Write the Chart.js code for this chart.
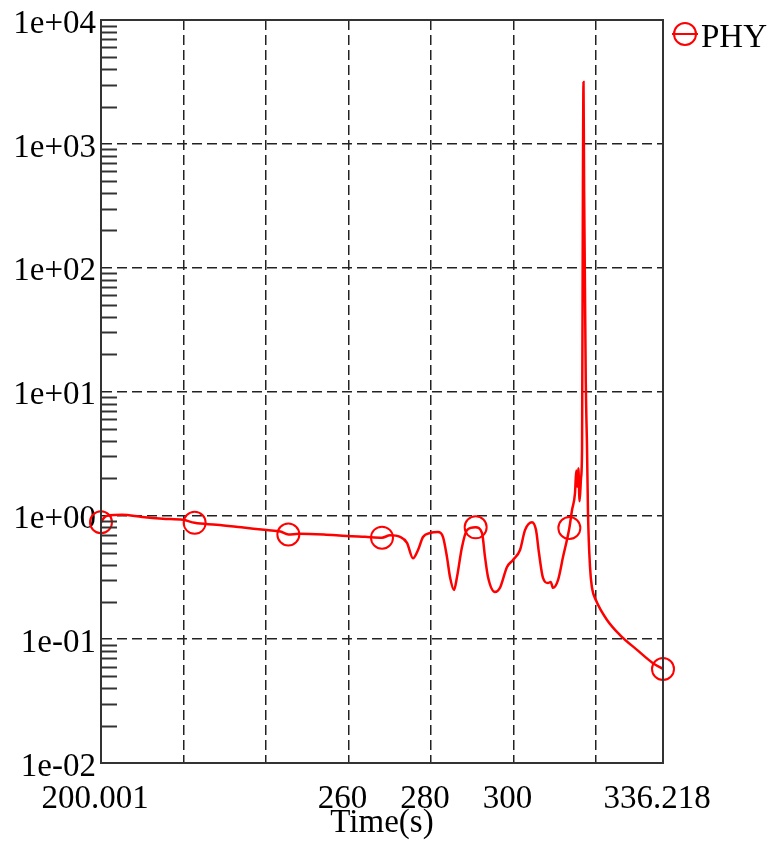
<!DOCTYPE html>
<html>
<head>
<meta charset="utf-8">
<script src="https://cdn.jsdelivr.net/npm/chart.js@4.4.1/dist/chart.umd.min.js"></script>
<style>
  html, body { margin: 0; padding: 0; background: #fff; }
  #chart { display: block; }
</style>
</head>
<body>
<canvas id="chart" width="772" height="848"></canvas>
<script>
// PHY against time, log scale on y

const seriesLabel = 'PHY';

const times = [
  200.001, 200.9, 202.0, 205.1, 210, 215, 219.9, 222.70, 228, 234,
  240.2, 243.5, 245.41, 248, 254, 259.6, 264, 268.11, 270.05, 272.47,
  274.17, 275.62, 276.84, 278.05, 279.75, 281.68, 282.90, 283.86, 284.59, 285.56,
  286.29, 287.50, 288.71, 290.81, 292.35, 293.08, 293.80, 295.50, 296.71, 298.41,
  299.86, 301.56, 302.77, 304.47, 305.44, 306.16, 307.13, 308.34, 309.0, 309.56,
  310.77, 311.98, 313.52, 314.16, 314.89, 315.2, 315.45, 315.7, 316.0, 316.35,
  316.6, 316.8, 316.95, 317.1, 317.5, 317.8, 318.04, 318.53, 319.01, 320.0,
  322.65, 325.80, 329.92, 333.80, 336.218
];

const phy = [
  0.88, 0.97, 1.0, 1.01, 0.97, 0.94, 0.92, 0.87, 0.84, 0.80,
  0.76, 0.74, 0.70, 0.71, 0.70, 0.68, 0.67, 0.66, 0.69, 0.67,
  0.60, 0.45, 0.525, 0.668, 0.72, 0.733, 0.668, 0.46, 0.318, 0.25,
  0.318, 0.555, 0.76, 0.80, 0.72, 0.46, 0.318, 0.24, 0.26, 0.383,
  0.436, 0.525, 0.76, 0.88, 0.76, 0.496, 0.312, 0.284, 0.29, 0.26,
  0.30, 0.46, 0.79, 1.10, 1.51, 2.3, 1.7, 2.4, 1.3, 2.0,
  3.5, 400, 3160, 420, 12, 3.56, 1.05, 0.383, 0.26, 0.205,
  0.143, 0.108, 0.082, 0.064, 0.0574
];

// circle markers along the curve
const markerTimes = [200.001, 222.70, 245.41, 268.11, 290.81, 313.52, 336.218];

const xTicks = [200.001, 220, 240, 260, 280, 300, 320, 336.218];
const xTickLabels = ['200.001', '', '', '260', '280', '300', '', '336.218'];

const yMajorTicks = [0.01, 0.1, 1, 10, 100, 1000, 10000];
const yTickLabels = ['1e-02', '1e-01', '1e+00', '1e+01', '1e+02', '1e+03', '1e+04'];

const FONT = "'Liberation Serif', 'Times New Roman', serif";
const RED = '#ff0000';
const GRID = '#222';
const FRAME = '#333';

// frame, minor ticks inside the left axis, legend on the right
const decorPlugin = {
  id: 'decor',
  afterDraw(chart) {
    const { ctx, chartArea } = chart;
    const y = chart.scales.y;
    ctx.save();
    ctx.strokeStyle = FRAME;
    ctx.lineWidth = 2;
    y.ticks.forEach(t => {
      if (t.major) return;
      const py = Math.round(y.getPixelForValue(t.value)) + 0.5;
      ctx.beginPath();
      ctx.moveTo(chartArea.left, py);
      ctx.lineTo(chartArea.left + 16, py);
      ctx.stroke();
    });
    ctx.strokeRect(chartArea.left, chartArea.top, chartArea.right - chartArea.left, chartArea.bottom - chartArea.top);

    const ds = chart.data.datasets[0];
    const cx = chartArea.right + 22, cy = 34;
    ctx.strokeStyle = ds.borderColor;
    ctx.lineWidth = 2;
    ctx.beginPath();
    ctx.arc(cx, cy, 11, 0, Math.PI * 2);
    ctx.stroke();
    ctx.beginPath();
    ctx.moveTo(cx - 13, cy);
    ctx.lineTo(cx + 13, cy);
    ctx.stroke();
    ctx.fillStyle = '#000';
    ctx.font = '33px ' + FONT;
    ctx.textBaseline = 'middle';
    ctx.textAlign = 'left';
    ctx.fillText(ds.label, cx + 16, cy + 4);
    ctx.restore();
  }
};

const isEdge = (v, lo, hi) => v === lo || v === hi;

new Chart(document.getElementById('chart'), {
  type: 'line',
  data: {
    datasets: [{
      label: seriesLabel,
      data: times.map((t, i) => ({ x: t, y: phy[i] })),
      borderColor: RED,
      borderWidth: 2.5,
      cubicInterpolationMode: 'monotone',
      pointStyle: 'circle',
      pointRadius: ctx => markerTimes.includes(times[ctx.dataIndex]) ? 11 : 0,
      pointHoverRadius: ctx => markerTimes.includes(times[ctx.dataIndex]) ? 11 : 0,
      pointBorderColor: RED,
      pointBackgroundColor: 'rgba(0,0,0,0)',
      pointBorderWidth: 2,
      clip: false
    }]
  },
  options: {
    responsive: false,
    animation: false,
    devicePixelRatio: 1,
    events: [],
    layout: { padding: { left: 0, top: 20, right: 109, bottom: 0 } },
    plugins: {
      legend: { display: false },
      tooltip: { enabled: false }
    },
    scales: {
      x: {
        type: 'linear',
        min: 200.001,
        max: 336.218,
        afterBuildTicks: scale => {
          scale.ticks = xTicks.map(v => ({ value: v }));
        },
        afterFit: scale => { scale.height = 85; },
        ticks: {
          autoSkip: false,
          maxRotation: 0,
          padding: 17,
          labelOffset: -6,
          color: '#000',
          font: { family: FONT, size: 33 },
          callback: (v, i) => xTickLabels[i]
        },
        grid: {
          drawTicks: false,
          lineWidth: 1.5,
          color: ctx => ctx.tick && !isEdge(ctx.tick.value, 200.001, 336.218) ? GRID : 'rgba(0,0,0,0)'
        },
        border: { display: true, color: FRAME, width: 2, dash: [10, 5] },
        title: {
          display: true,
          text: 'Time(s)',
          color: '#000',
          font: { family: FONT, size: 33 },
          padding: { top: 0, bottom: 5 }
        }
      },
      y: {
        type: 'logarithmic',
        min: 0.01,
        max: 10000,
        afterBuildTicks: scale => {
          const ticks = [];
          yMajorTicks.forEach((v, i) => {
            ticks.push({ value: v, major: true });
            if (i < yMajorTicks.length - 1) {
              for (let k = 2; k <= 9; k++) ticks.push({ value: v * k, major: false });
            }
          });
          scale.ticks = ticks;
        },
        afterFit: scale => {
          scale.width = 101;
          scale.paddingTop = 0;
          scale.paddingBottom = 0;
        },
        ticks: {
          autoSkip: false,
          padding: 5,
          labelOffset: 4,
          color: '#000',
          font: { family: FONT, size: 33 },
          callback: v => {
            const i = yMajorTicks.indexOf(v);
            return i >= 0 ? yTickLabels[i] : '';
          }
        },
        grid: {
          drawTicks: false,
          lineWidth: 1.5,
          color: ctx => ctx.tick && ctx.tick.major && !isEdge(ctx.tick.value, 0.01, 10000) ? GRID : 'rgba(0,0,0,0)'
        },
        border: { display: true, color: FRAME, width: 2, dash: [10, 5] }
      }
    }
  },
  plugins: [decorPlugin]
});
</script>
</body>
</html>
